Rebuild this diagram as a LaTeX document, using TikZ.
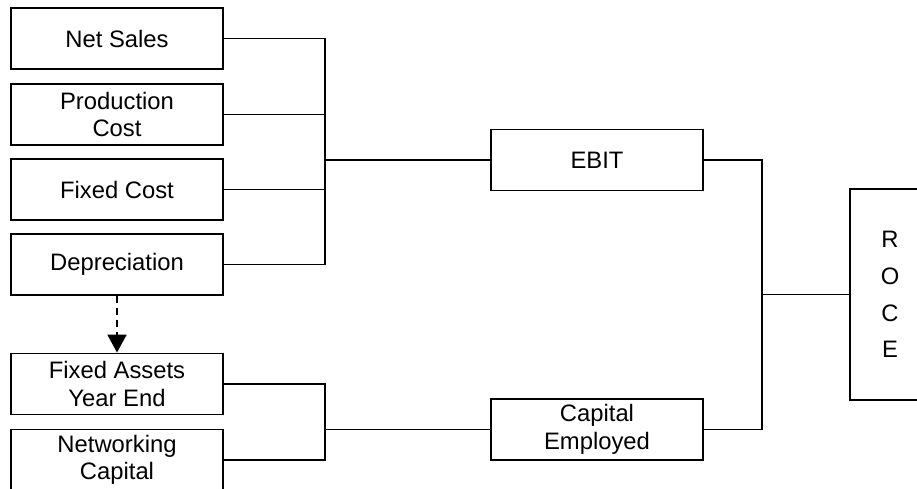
\documentclass[tikz,border=0pt]{standalone}
\usepackage{fontspec}
\setmainfont{Liberation Sans}
\usetikzlibrary{arrows.meta}
\begin{document}
\begin{tikzpicture}[x=1pt,y=-1pt,
  line width=1.8pt,
  box/.style={draw, rectangle, inner sep=0pt, align=center,
    minimum width=212pt, minimum height=61pt,
    font=\fontsize{23.8}{27.4}\selectfont},
  tallbox/.style={draw, rectangle, inner sep=0pt, align=center,
    minimum width=80pt, minimum height=211pt,
    font=\fontsize{23.8}{36.7}\selectfont},
  link/.style={draw, line width=1.8pt},
  dashlink/.style={draw, line width=1.8pt, dash pattern=on 7pt off 5pt,
    -{Triangle[length=18pt,width=19pt]}}]
\clip (0,0) rectangle (917,488);

% input measures
\node[box] (ns)  at (117,38.5)  {Net Sales};
\node[box] (pc)  at (117,114.5) {Production\\Cost};
\node[box] (fc)  at (117,189.5) {Fixed Cost};
\node[box] (dep) at (117,264.5) {Depreciation};
\node[box] (fa)  at (117,384)   {Fixed Assets\\Year End};
\node[box] (nw)  at (117,460)   {Networking\\Capital};

% intermediate results
\node[box] (ebit) at (597,160)   {EBIT};
\node[box] (cap)  at (597,429.5) {Capital\\Employed};

% final ratio
\node[tallbox] (roce) at (890,294.5) {R\\O\\C\\E};

% junction points
\coordinate (j1) at (325,160);
\coordinate (j3) at (325,429.5);
\coordinate (j2) at (762,294.5);

% profit branch
\path[link] (ns.east) -- (ns.east -| j1) |- (dep.east);
\path[link] (pc.east) -- (pc.east -| j1);
\path[link] (fc.east) -- (fc.east -| j1);
\path[link] (j1) -- (ebit.west);

% capital branch
\path[link] (fa.east) -- (fa.east -| j3) |- (nw.east);
\path[link] (j3) -- (cap.west);

% combining into the ratio
\path[link] (ebit.east) -- (ebit.east -| j2) |- (cap.east);
\path[link] (j2) -- (roce.west);

% depreciation reduces fixed assets
\path[dashlink] (dep.south) -- (fa.north);
\end{tikzpicture}
\end{document}
